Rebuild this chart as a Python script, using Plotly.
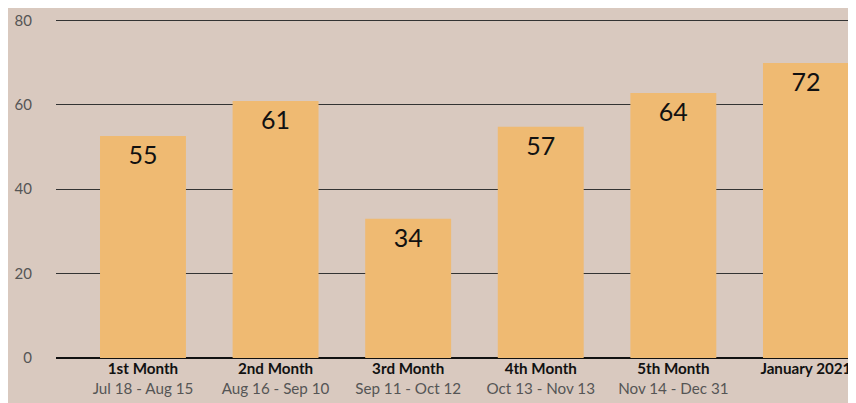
import plotly.graph_objects as go

categories = ["1st Month", "2nd Month", "3rd Month", "4th Month", "5th Month", "January 2021"]
date_ranges = ["Jul 18 - Aug 15", "Aug 16 - Sep 10", "Sep 11 - Oct 12", "Oct 13 - Nov 13", "Nov 14 - Dec 31", ""]
values = [52.6, 60.9, 33.0, 54.8, 62.8, 69.9]
labels = ["55", "61", "34", "57", "64", "72"]
y_ticks = [0, 20, 40, 60, 80]

tick_text = []
for name, rng in zip(categories, date_ranges):
    if rng:
        tick_text.append(f"<b>{name}</b><br><span style='color:#555555'>{rng}</span>")
    else:
        tick_text.append(f"<b>{name}</b>")

fig = go.Figure(go.Bar(
    x=list(range(len(categories))),
    y=values,
    text=labels,
    textposition="inside",
    insidetextanchor="end",
    textangle=0,
    textfont=dict(family="Lato", size=25, color="#111111"),
    marker=dict(color="#EFBA72", line=dict(width=0)),
    hoverinfo="skip",
))

# the page body keeps its default 8px margin, so the figure is 8px smaller
fig.update_layout(
    width=848,
    height=395,
    margin=dict(l=48, r=3, t=11, b=45, autoexpand=False),
    paper_bgcolor="#D9C9BF",
    plot_bgcolor="#D9C9BF",
    bargap=0.352,
    showlegend=False,
    font=dict(family="Lato", size=15, color="#111111"),
)

fig.update_xaxes(
    range=[-0.656, 5.355],
    tickmode="array",
    tickvals=list(range(len(categories))),
    ticktext=tick_text,
    tickfont=dict(family="Lato", size=15.2, color="#111111"),
    showgrid=False,
    showline=False,
    zeroline=False,
    ticks="",
    automargin=False,
)

fig.update_yaxes(
    range=[0, 80.3],
    tickmode="array",
    tickvals=y_ticks,
    tickfont=dict(family="Lato", size=15, color="#555555"),
    showgrid=True,
    gridcolor="#333333",
    gridwidth=1,
    zeroline=True,
    zerolinecolor="#111111",
    zerolinewidth=1.5,
    ticklabelstandoff=23,
    showline=False,
    automargin=False,
)

fig.write_html("out.html")
